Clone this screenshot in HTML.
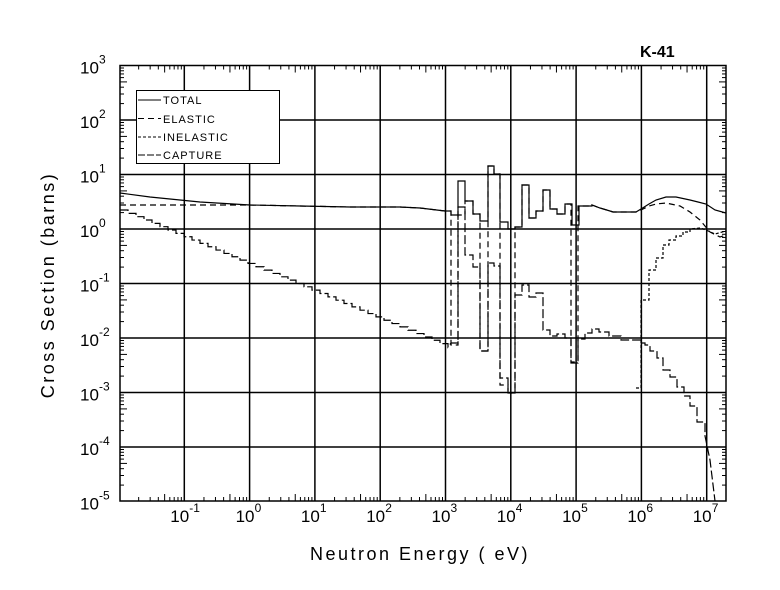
<!DOCTYPE html>
<html><head><meta charset="utf-8"><style>
body{margin:0;background:#fff}
svg{display:block}
text{font-family:"Liberation Sans",sans-serif;fill:#000}
</style></head><body>
<svg id="s" width="780" height="590" viewBox="0 0 780 590" xmlns="http://www.w3.org/2000/svg">
<rect width="780" height="590" fill="#fff"/>
<g id="g" stroke="#000" fill="none"></g>
<text x="640" y="57" font-size="16" font-weight="bold">K-41</text>
<text x="420" y="560" font-size="18" text-anchor="middle" letter-spacing="2.5">Neutron Energy ( eV)</text>
<text transform="translate(54,285) rotate(-90)" font-size="18" text-anchor="middle" letter-spacing="2.5">Cross Section (barns)</text>
<g id="lab" font-size="17"></g>
<rect x="136.5" y="90.5" width="143" height="73" fill="#fff" stroke="#000" stroke-width="1"/>
<g font-size="11" letter-spacing="1">
<text x="163" y="104">TOTAL</text>
<text x="163" y="123">ELASTIC</text>
<text x="163" y="141">INELASTIC</text>
<text x="163" y="159">CAPTURE</text>
</g>
<g stroke="#000" stroke-width="1">
<line x1="138" y1="100" x2="161" y2="100"/>
<line x1="138" y1="118.5" x2="161" y2="118.5" stroke-dasharray="6,4"/>
<line x1="138" y1="137" x2="161" y2="137" stroke-dasharray="3,2"/>
<line x1="138" y1="155" x2="161" y2="155" stroke-dasharray="7,2"/>
</g>
</svg>
<script>
const L=120,R=726,T=65.5,B=501;
const X=l=>445.5+(l-3)*65.3, Y=l=>229-l*54.5;
const g=document.getElementById('g');let h='';
h+=`<rect x="${L}" y="${T}" width="${R-L}" height="${B-T}" stroke-width="1.5"/>`;
for(let d=-1;d<=7;d++){const x=X(d);h+=`<line x1="${x}" y1="${T}" x2="${x}" y2="${B}" stroke-width="1.5"/>`;}
for(let d=-4;d<=2;d++){const y=Y(d);h+=`<line x1="${L}" y1="${y}" x2="${R}" y2="${y}" stroke-width="1.5"/>`;}
for(let d=-2;d<=7;d++)for(let m=2;m<=9;m++){const x=X(d+Math.log10(m));if(x>L&&x<R){const t=m==5?7:4;h+=`<line x1="${x}" y1="${B}" x2="${x}" y2="${B-t}"/><line x1="${x}" y1="${T}" x2="${x}" y2="${T+t}"/>`;}}
for(let d=-5;d<=2;d++)for(let m=2;m<=9;m++){const y=Y(d+Math.log10(m));const t=m==5?7:4;h+=`<line x1="${L}" y1="${y}" x2="${L+t}" y2="${y}"/><line x1="${R}" y1="${y}" x2="${R-t}" y2="${y}"/>`;}
// capture staircase
let cap=[];let px=120,py=210;cap.push([px,py]);
while(px<445){let nx=px+8;let ny=210+(nx-120)*0.4175;cap.push([nx,py]);cap.push([nx,ny]);px=nx;py=ny;}
cap=cap.concat([[451,343],[458,343],[458,207],[465,207],[465,255],[473,255],[473,267],[480,267],[480,351],[488,351],[488,263],[494,263],[494,266],[500,266],[500,378],[508,378],[508,393],[515,393],[515,295],[522,295],[522,285],[529,285],[529,297],[536,297],[536,293],[543,293],[543,330],[550,330],[550,336],[557,336],[557,334],[565,334],[565,338],[571,338],[571,363],[578,363],[578,339],[585,339],[585,333],[592,333],[592,329],[599,329],[599,332],[609,332],[609,336],[621,336],[621,340],[641,340],[641,343],[645,343],[645,345],[650,345],[650,351],[657,351],[657,358],[663,358],[663,370],[670,370],[670,377],[677,377],[677,387],[684,387],[684,396],[690,396],[690,406],[697,406],[697,422],[705,422],[705,436],[710,460],[715,501]]);
const tot=[[120,193],[150,197],[200,202],[250,205],[300,206],[350,207],[400,207],[420,208],[445,211],[451,211],[451,215],[458,215],[458,181],[465,181],[465,201],[473,201],[473,214],[480,214],[480,221],[488,221],[488,166],[494,166],[494,174],[500,174],[500,222],[508,222],[508,229],[515,229],[515,227],[522,227],[522,185],[529,185],[529,218],[536,218],[536,211],[543,211],[543,190],[550,190],[550,209],[557,209],[557,214],[565,214],[565,204],[572,204],[572,225],[579,225],[579,206],[592,206],[592,205],[600,208],[610,211],[613,212],[636,212],[641,209],[649,204],[656,200],[666,197],[676,197],[690,200],[698,202],[706,204],[715,210],[726,213]];
const ela=[[120,205],[200,205],[250,205],[300,206],[350,207],[400,207],[420,208],[445,211],[451,211],[451,345],[458,345],[458,215],[465,215],[465,201],[473,201],[473,214],[480,214],[480,351],[488,351],[488,166],[494,166],[494,174],[500,174],[500,385],[508,385],[508,393],[515,393],[515,227],[522,227],[522,185],[529,185],[529,218],[536,218],[536,211],[543,211],[543,190],[550,190],[550,209],[557,209],[557,214],[565,214],[565,204],[571,204],[571,362],[578,362],[578,206],[592,206],[592,205],[600,208],[610,211],[613,212],[636,212],[641,210],[649,206],[656,204],[666,203],[680,206],[690,212],[700,220],[710,232],[720,237],[726,235]];
const ine=[[636,388],[641,388],[641,300],[649,300],[649,270],[656,270],[656,258],[663,258],[663,245],[669,245],[669,240],[676,240],[676,236],[683,236],[683,232],[690,232],[690,229],[700,228],[706,230],[715,234],[726,231]];
const P=(a,s)=>`<polyline points="${a.map(p=>p.join(',')).join(' ')}" stroke-width="1.2" ${s}/>`;
h+=P(cap,'stroke-dasharray="9,3"')+P(ela,'stroke-dasharray="6,4"')+P(ine,'stroke-dasharray="3,2"')+P(tot,'');
g.innerHTML=h;
let lb='';
for(let d=-5;d<=3;d++){const y=Y(d);lb+=`<text x="80" y="${y+8}">10</text><text x="99" y="${y-2}" font-size="12">${d}</text>`;}
for(let d=-1;d<=7;d++){const x=X(d);lb+=`<text x="${x-14}" y="${522}">10</text><text x="${x+5}" y="${512}" font-size="12">${d}</text>`;}
document.getElementById('lab').innerHTML=lb;
</script>
</body></html>
